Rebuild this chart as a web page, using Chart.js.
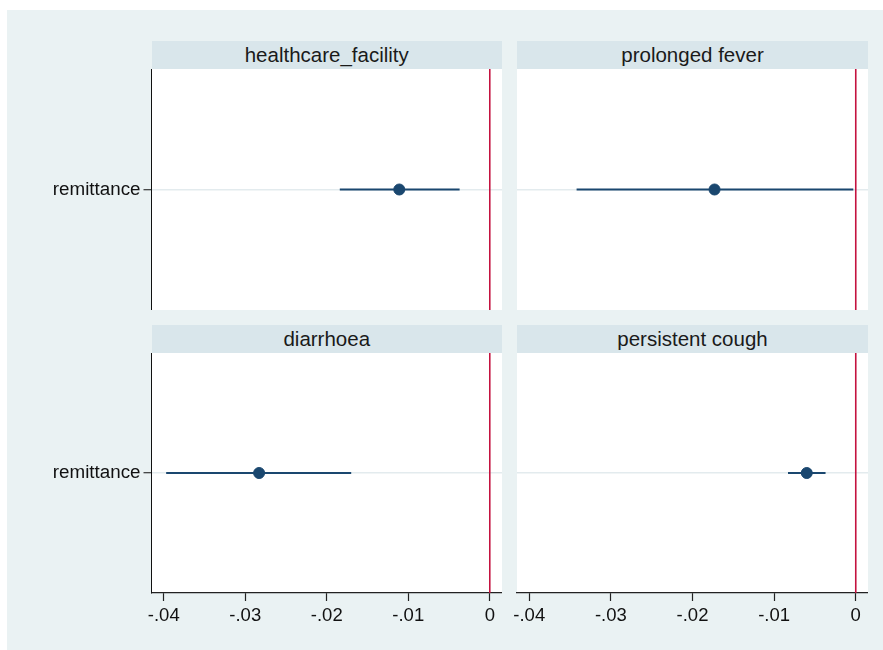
<!DOCTYPE html>
<html>
<head>
<meta charset="utf-8">
<script src="https://cdn.jsdelivr.net/npm/chart.js@4/dist/chart.umd.min.js"></script>
<style>
  body { margin: 0; background: #fff; width: 883px; height: 650px; overflow: hidden; }
  #bg { position: absolute; left: 7px; top: 10px; width: 876px; height: 640px; background: #eaf2f3; }
  .head { position: absolute; height: 28px; line-height: 28px; background: #d9e6eb; text-align: center;
          font-family: 'Liberation Sans', Arial, sans-serif; font-size: 20.5px; color: #1a1a1a; }
  canvas { position: absolute; }
</style>
</head>
<body>
<div id="bg"></div>
<div id="wrap"></div>
<script>
// Panel titles (one per subgraph) and the single coefficient row
const panelTitles = ['healthcare_facility', 'prolonged fever', 'diarrhoea', 'persistent cough'];
const categories = ['remittance'];

// Point estimates and 95% CI ends
const estimates = [-0.0111, -0.0173, -0.0283, -0.0060];
const ciLow = [-0.0184, -0.0342, -0.0397, -0.0083];
const ciHigh = [-0.0037, -0.0003, -0.0170, -0.0037];

// x axis ticks
const xTicks = [-0.04, -0.03, -0.02, -0.01, 0];
const xTickLabels = ['-.04', '-.03', '-.02', '-.01', '0'];

const navy = '#1a476f';
const zeroRed = '#c4123f';

Chart.defaults.font.family = "'Liberation Sans', Arial, sans-serif";

// where each subgraph sits on the page
const boxes = [
  { left: 0, top: 69, width: 502, height: 241, yW: 151.5, xH: 0, showY: true, showX: false },
  { left: 502, top: 69, width: 366, height: 241, yW: 15, xH: 0, showY: false, showX: false },
  { left: 0, top: 353, width: 502, height: 297, yW: 151.5, xH: 57, showY: true, showX: true },
  { left: 502, top: 353, width: 366, height: 297, yW: 15, xH: 57, showY: false, showX: true }
];

// white plot region + red line at zero
const panelPlugin = {
  id: 'panelPlugin',
  beforeDraw(chart) {
    const a = chart.chartArea;
    const ctx = chart.ctx;
    ctx.save();
    ctx.fillStyle = '#fff';
    ctx.fillRect(a.left, a.top, a.right - a.left, a.bottom - a.top);
    ctx.restore();
  },
  beforeDatasetsDraw(chart) {
    const a = chart.chartArea;
    const ctx = chart.ctx;
    const x0 = chart.scales.x.getPixelForValue(0);
    ctx.save();
    ctx.strokeStyle = zeroRed;
    ctx.lineWidth = 1.6;
    ctx.beginPath();
    ctx.moveTo(x0, a.top);
    ctx.lineTo(x0, a.bottom);
    ctx.stroke();
    ctx.restore();
  }
};

const wrap = document.getElementById('wrap');

boxes.forEach((b, i) => {
  // header strip
  const h = document.createElement('div');
  h.className = 'head';
  h.style.left = (b.left + b.yW) + 'px';
  h.style.top = (b.top - 28) + 'px';
  h.style.width = (b.width - b.yW) + 'px';
  h.textContent = panelTitles[i];
  wrap.appendChild(h);

  const cv = document.createElement('canvas');
  cv.width = b.width;
  cv.height = b.height;
  cv.style.left = b.left + 'px';
  cv.style.top = b.top + 'px';
  wrap.appendChild(cv);

  new Chart(cv.getContext('2d'), {
    type: 'scatter',
    data: {
      datasets: [
        {
          data: [{ x: ciLow[i], y: categories[0] }, { x: ciHigh[i], y: categories[0] }],
          showLine: true,
          borderColor: navy,
          borderWidth: 2,
          pointRadius: 0
        },
        {
          data: [{ x: estimates[i], y: categories[0] }],
          backgroundColor: navy,
          borderColor: navy,
          pointRadius: 5.5
        }
      ]
    },
    options: {
      responsive: false,
      animation: false,
      devicePixelRatio: 1,
      layout: { padding: 0, autoPadding: false },
      plugins: { legend: { display: false }, tooltip: { enabled: false } },
      scales: {
        x: {
          type: 'linear',
          min: -0.0415,
          max: 0.0015,
          display: b.showX,
          afterBuildTicks: s => { s.ticks = xTicks.map(v => ({ value: v })); },
          afterFit: s => { s.height = b.xH; s.paddingLeft = 0; s.paddingRight = 0; },
          border: { display: true, color: '#222', width: 1.2 },
          grid: { drawOnChartArea: false, drawTicks: true, tickLength: 8, tickColor: '#222', tickWidth: 1.2 },
          ticks: {
            color: '#111',
            font: { size: 18.5 },
            padding: 4,
            maxRotation: 0,
            autoSkip: false,
            callback: (v, idx) => xTickLabels[idx]
          }
        },
        y: {
          type: 'category',
          labels: categories,
          offset: true,
          afterFit: s => { s.width = b.yW; s.paddingTop = 0; s.paddingBottom = 0; },
          border: { display: b.showY, color: '#111', width: 1 },
          grid: {
            color: '#e3ebee',
            lineWidth: 1.5,
            drawTicks: b.showY,
            tickLength: 8,
            tickColor: '#111',
            tickWidth: 1
          },
          ticks: {
            display: b.showY,
            color: '#111',
            font: { size: 18.8 },
            padding: 3
          }
        }
      }
    },
    plugins: [panelPlugin]
  });
});
</script>
</body>
</html>
